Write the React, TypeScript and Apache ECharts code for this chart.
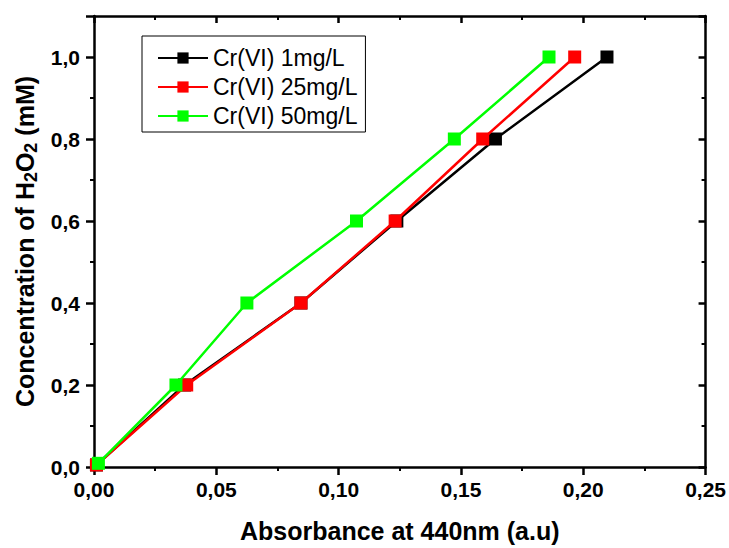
import React, { useEffect, useRef } from "react";
import * as echarts from "echarts";

const yLevels = [0, 0.2, 0.4, 0.6, 0.8, 1.0];
const black1mgX = [0.001, 0.037, 0.0846, 0.1238, 0.1641, 0.2097];
const black1mgY = [0.005, 0.2, 0.4, 0.6, 0.8, 1.0];
const red25mgX = [0.001, 0.0379, 0.0846, 0.1231, 0.1589, 0.1965];
const red25mgY = [0.005, 0.2, 0.4, 0.6, 0.8, 1.0];
const green50mgX = [0.0018, 0.0335, 0.0625, 0.1073, 0.1473, 0.186];
const green50mgY = [0.009, 0.2, 0.4, 0.6, 0.8, 1.0];
const seriesNames = ["Cr(VI) 1mg/L", "Cr(VI) 25mg/L", "Cr(VI) 50mg/L"];
const seriesColors = ["#000000", "#ff0000", "#00ff00"];

const FONT = "'Liberation Sans', Arial, sans-serif";

export default function App() {
  const ref = useRef<HTMLDivElement>(null);
  useEffect(() => {
    if (!ref.current) return;
    const chart = echarts.init(ref.current, undefined, { renderer: "svg" });
    const pairs = (xs: number[], ys: number[]) => xs.map((x, i) => [x, ys[i]]);
    const datasets = [
      pairs(black1mgX, black1mgY),
      pairs(red25mgX, red25mgY),
      pairs(green50mgX, green50mgY),
    ];
    const axisLineStyle = { color: "#000", width: 2.5 };
    const xFmt = (v: number) => v.toFixed(2).replace(".", ",");
    const yFmt = (v: number) => {
      const r = Math.round(v * 10);
      if (r % 2 !== 0 || v > 1.05) return "";
      return v.toFixed(1).replace(".", ",");
    };
    chart.setOption({
      animation: false,
      backgroundColor: "#fff",
      grid: { left: 94, right: 23, top: 16, bottom: 77, containLabel: false },
      legend: {
        orient: "vertical",
        left: 142,
        top: 36,
        padding: [10, 8, 4, 15],
        borderColor: "#000",
        borderWidth: 1,
        itemWidth: 50,
        itemHeight: 14,
        itemGap: 5,
        textStyle: { fontFamily: FONT, fontSize: 23, color: "#000", lineHeight: 24 },
        data: seriesNames,
      },
      xAxis: [
        {
          type: "value",
          position: "bottom",
          min: 0,
          max: 0.25,
          interval: 0.05,
          name: "Absorbance at 440nm (a.u)",
          nameLocation: "middle",
          nameGap: 51,
          nameTextStyle: { fontFamily: FONT, fontSize: 25, fontWeight: "bold", color: "#000" },
          axisLine: { show: true, onZero: false, lineStyle: axisLineStyle },
          axisTick: { show: true, inside: false, length: 8, lineStyle: { width: 2.5, color: "#000" } },
          minorTick: { show: true, splitNumber: 2, length: 4, lineStyle: { width: 2, color: "#000" } },
          axisLabel: {
            formatter: xFmt,
            margin: 12,
            fontFamily: FONT,
            fontSize: 21,
            fontWeight: "bold",
            color: "#000",
          },
          splitLine: { show: false },
        },
        {
          type: "value",
          position: "top",
          min: 0,
          max: 0.25,
          interval: 0.05,
          axisLine: { show: true, onZero: false, lineStyle: axisLineStyle },
          axisTick: { show: true, inside: true, length: 7, lineStyle: { width: 2.5, color: "#000" } },
          minorTick: { show: true, splitNumber: 2, length: 4, lineStyle: { width: 2, color: "#000" } },
          axisLabel: { show: false },
          splitLine: { show: false },
        },
      ],
      yAxis: [
        {
          type: "value",
          position: "left",
          min: 0,
          max: 1.1,
          interval: 0.2,
          name: "{m|Concentration of H}{s|2}{m|O}{s|2}{m| (mM)}",
          nameLocation: "middle",
          nameGap: 52,
          nameTextStyle: {
            fontFamily: FONT,
            fontSize: 25,
            fontWeight: "bold",
            color: "#000",
            rich: {
              m: { fontFamily: FONT, fontSize: 25, fontWeight: "bold", color: "#000", lineHeight: 30, verticalAlign: "middle" },
              s: { fontFamily: FONT, fontSize: 18, fontWeight: "bold", color: "#000", lineHeight: 30, verticalAlign: "bottom" },
            },
          },
          axisLine: { show: true, onZero: false, lineStyle: axisLineStyle },
          axisTick: { show: true, inside: false, length: 8, lineStyle: { width: 2.5, color: "#000" } },
          minorTick: { show: true, splitNumber: 2, length: 4, lineStyle: { width: 2, color: "#000" } },
          axisLabel: {
            formatter: yFmt,
            margin: 14,
            fontFamily: FONT,
            fontSize: 21,
            fontWeight: "bold",
            color: "#000",
          },
          splitLine: { show: false },
        },
        {
          type: "value",
          position: "right",
          min: 0,
          max: 1.1,
          interval: 0.2,
          axisLine: { show: true, onZero: false, lineStyle: axisLineStyle },
          axisTick: { show: true, inside: true, length: 7, lineStyle: { width: 2.5, color: "#000" } },
          minorTick: { show: true, splitNumber: 2, length: 4, lineStyle: { width: 2, color: "#000" } },
          axisLabel: { show: false },
          splitLine: { show: false },
        },
      ],
      series: seriesNames.map((name, i) => ({
        name,
        type: "line",
        xAxisIndex: 0,
        yAxisIndex: 0,
        data: datasets[i],
        symbol: "rect",
        symbolSize: 13,
        showAllSymbol: true,
        color: seriesColors[i],
        itemStyle: { color: seriesColors[i] },
        lineStyle: { color: seriesColors[i], width: 2.5 },
        z: 2 + i,
      })),
    });
    return () => chart.dispose();
  }, []);
  return <div ref={ref} style={{ width: 729, height: 548, position: "absolute", left: 0, top: 0 }} />;
}
